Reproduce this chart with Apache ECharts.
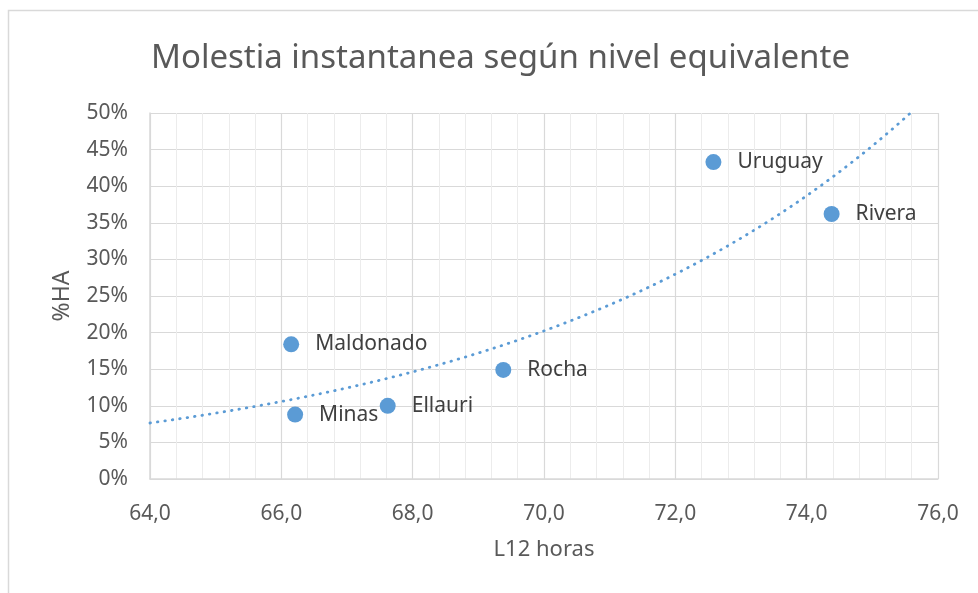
<!DOCTYPE html>
<html>
<head>
<meta charset="utf-8">
<script src="https://cdn.jsdelivr.net/npm/echarts@6/dist/echarts.min.js"></script>
<style>
  html, body { margin: 0; padding: 0; background: #fff; }
  #chart { width: 978px; height: 593px; }
</style>
</head>
<body>
<div id="chart"></div>
<script>
// datos
const names = ['Maldonado', 'Minas', 'Ellauri', 'Rocha', 'Uruguay', 'Rivera']
const l12 = [66.15, 66.21, 67.62, 69.38, 72.58, 74.38]
const ha = [0.184, 0.088, 0.100, 0.149, 0.433, 0.362]

// linea de tendencia exponencial (minimos cuadrados sobre ln y), como Excel
function expTrend(xs, ys) {
  const n = xs.length
  const ly = ys.map(v => Math.log(v))
  const mx = xs.reduce((a, b) => a + b, 0) / n
  const my = ly.reduce((a, b) => a + b, 0) / n
  let sxy = 0, sxx = 0
  for (let i = 0; i < n; i++) {
    sxy += (xs[i] - mx) * (ly[i] - my)
    sxx += (xs[i] - mx) * (xs[i] - mx)
  }
  const b = sxy / sxx
  const a = my - b * mx
  const pts = []
  for (let x = 64; x <= 76.0001; x += 0.05) {
    pts.push([x, Math.exp(a + b * x)])
  }
  return pts
}

const font = 'Noto Sans'
const chart = echarts.init(document.getElementById('chart'))
const option = {
  backgroundColor: '#fff',
  animation: false,
  graphic: [{
    type: 'rect',
    shape: { x: 8.5, y: 10.5, width: 990, height: 620 },
    style: { fill: 'none', stroke: '#d9d9d9', lineWidth: 1.5 },
    silent: true
  }],
  title: {
    text: 'Molestia instantanea según nivel equivalente',
    left: 151,
    top: 42,
    padding: 0,
    textStyle: { color: '#595959', fontSize: 33, fontWeight: 'normal', fontFamily: font }
  },
  grid: { left: 150, right: 40, top: 113, bottom: 114 },
  xAxis: {
    type: 'value',
    min: 64,
    max: 76,
    interval: 2,
    name: 'L12 horas',
    nameLocation: 'middle',
    nameGap: 60,
    nameTextStyle: { color: '#595959', fontSize: 22, fontFamily: font },
    axisLine: { show: true, lineStyle: { color: '#d9d9d9', width: 1.5 } },
    axisTick: { show: false },
    axisLabel: {
      color: '#595959', fontSize: 21, fontFamily: font, margin: 25,
      formatter: v => v.toFixed(1).replace('.', ',')
    },
    splitLine: { show: true, lineStyle: { color: '#d9d9d9', width: 1.2 } },
    minorTick: { show: false, splitNumber: 5 },
    minorSplitLine: { show: true, lineStyle: { color: '#ececec', width: 1 } }
  },
  yAxis: {
    type: 'value',
    min: 0,
    max: 0.5,
    interval: 0.05,
    name: '%HA',
    nameLocation: 'middle',
    nameGap: 76,
    nameRotate: 90,
    nameTextStyle: { color: '#595959', fontSize: 23, fontFamily: font },
    axisLine: { show: true, lineStyle: { color: '#d9d9d9', width: 1.5 } },
    axisTick: { show: false },
    axisLabel: {
      color: '#595959', fontSize: 21, fontFamily: font, margin: 22,
      formatter: v => Math.round(v * 100) + '%'
    },
    splitLine: { show: true, lineStyle: { color: '#d9d9d9', width: 1.2 } }
  },
  series: [
    {
      name: 'tendencia',
      type: 'line',
      data: expTrend(l12, ha),
      showSymbol: false,
      smooth: false,
      clip: true,
      z: 2,
      lineStyle: { color: '#5b9bd5', width: 2.8, type: [0.5, 7], cap: 'round' }
    },
    {
      name: '%HA',
      type: 'scatter',
      data: l12.map((x, i) => ({ value: [x, ha[i]], name: names[i] })),
      symbolSize: 16,
      z: 3,
      itemStyle: { color: '#5b9bd5', opacity: 1 },
      label: {
        show: true,
        position: 'right',
        distance: 16,
        formatter: p => p.name,
        color: '#404040',
        fontSize: 21,
        fontFamily: font
      }
    }
  ]
}
chart.setOption(option)
</script>
</body>
</html>
